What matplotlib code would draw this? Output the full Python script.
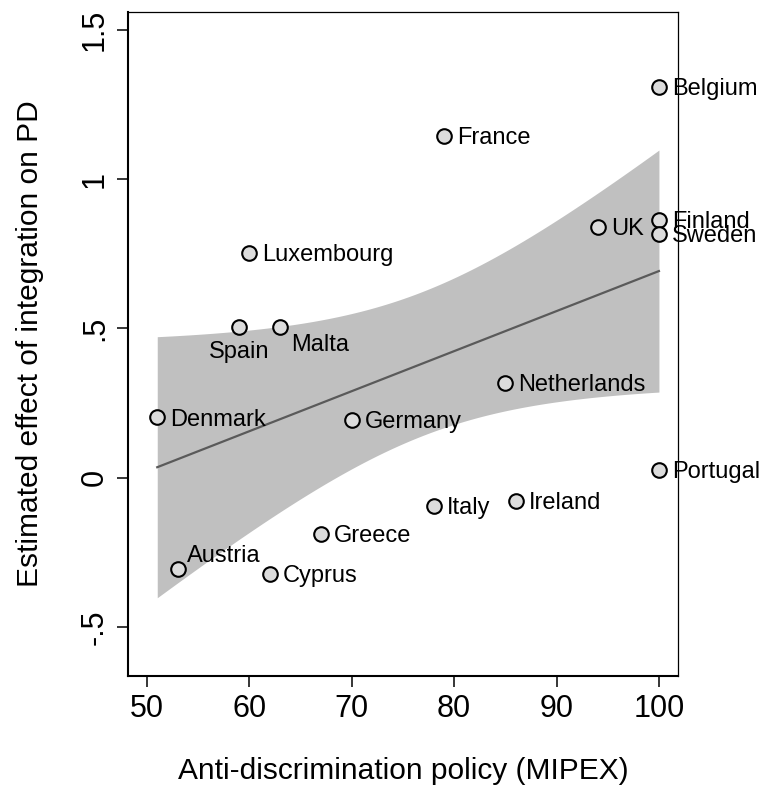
import numpy as np
import matplotlib.pyplot as plt

plt.rcParams["font.family"] = ["Liberation Sans", "DejaVu Sans"]

# ---- data ----
COUNTRIES = ["Belgium", "France", "Finland", "Sweden", "UK", "Luxembourg",
             "Spain", "Malta", "Denmark", "Germany", "Netherlands", "Portugal",
             "Italy", "Ireland", "Greece", "Austria", "Cyprus"]
MIPEX = [100, 79, 100, 100, 94, 60, 59, 63, 51, 70, 85, 100, 78, 86, 67, 53, 62]
EFFECT = [1.31, 1.145, 0.864, 0.817, 0.84, 0.753, 0.506, 0.506, 0.202, 0.195,
          0.319, 0.027, -0.094, -0.077, -0.187, -0.305, -0.321]

X_TICKS = [50, 60, 70, 80, 90, 100]
Y_TICKS = [-0.5, 0, 0.5, 1, 1.5]
Y_TICKLABELS = ["-.5", "0", ".5", "1", "1.5"]

# label placement (offset in points, ha, va); default is to the right
LABEL_POS = {
    "Spain": ((0, -18), "center", "center"),
    "Malta": ((8, -13), "left", "center"),
    "Austria": ((7, 9), "left", "center"),
}
DEFAULT_POS = ((9.5, -1.5), "left", "center")

T_CRIT = 2.131  # t(0.975, df=15)


def lfitci(x, y, grid):
    """Linear fit with 95% CI of the prediction (like Stata lfitci)."""
    x = np.asarray(x, float); y = np.asarray(y, float)
    n = len(x)
    b, a = np.polyfit(x, y, 1)
    resid = y - (a + b * x)
    s = np.sqrt(np.sum(resid ** 2) / (n - 2))
    sxx = np.sum((x - x.mean()) ** 2)
    fit = a + b * grid
    se = s * np.sqrt(1.0 / n + (grid - x.mean()) ** 2 / sxx)
    return fit, fit - T_CRIT * se, fit + T_CRIT * se


fig = plt.figure(figsize=(7.64, 7.91), dpi=100)
ax = fig.add_axes([0.1675, 0.1454, 0.7199, 0.8394])

grid = np.linspace(min(MIPEX), max(MIPEX), 200)
fit, lo, hi = lfitci(MIPEX, EFFECT, grid)
ax.fill_between(grid, lo, hi, color="#c0c0c0", lw=0, zorder=1)
ax.plot(grid, fit, color="#5a5a5a", lw=1.6, zorder=2)

ax.plot(MIPEX, EFFECT, "o", ms=10.5, mfc="#dcdcdc", mec="black", mew=1.5,
        linestyle="None", zorder=3)

for name, x, y in zip(COUNTRIES, MIPEX, EFFECT):
    off, ha, va = LABEL_POS.get(name, DEFAULT_POS)
    ax.annotate(name, (x, y), xytext=off, textcoords="offset points",
                ha=ha, va=va, fontsize=17, color="black", zorder=3,
                annotation_clip=False)

ax.set_xlim(48.14, 101.86)
ax.set_ylim(-0.664, 1.56)
ax.set_xticks(X_TICKS)
ax.set_yticks(Y_TICKS)
ax.set_yticklabels(Y_TICKLABELS, rotation=90, va="center")
ax.tick_params(axis="both", direction="out", length=8, width=1.1,
               labelsize=22, colors="black", pad=5)

for side in ("left", "bottom"):
    ax.spines[side].set_linewidth(1.5)
for side in ("top", "right"):
    ax.spines[side].set_linewidth(0.9)
for sp in ax.spines.values():
    sp.set_zorder(4)

ax.set_xlabel("Anti-discrimination policy (MIPEX)", fontsize=21.5, labelpad=24)
ax.set_ylabel("Estimated effect of integration on PD", fontsize=21.5, labelpad=26)

fig.savefig("out.png", dpi=100)
